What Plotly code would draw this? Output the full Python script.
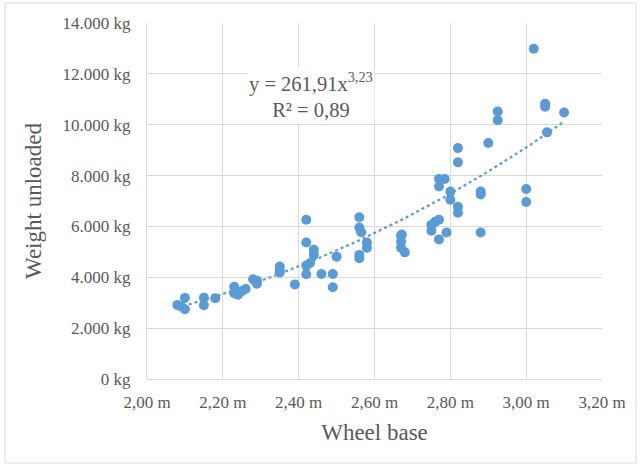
import numpy as np
import plotly.graph_objects as go

# Wheel base (m) and unloaded weight (kg)
wheel_base = [2.08, 2.09, 2.10, 2.10, 2.15, 2.15, 2.18, 2.23, 2.23, 2.24, 2.25, 2.26,
              2.28, 2.29, 2.29, 2.35, 2.35, 2.35, 2.39,
              2.42, 2.42, 2.44, 2.44, 2.43, 2.42, 2.42, 2.46, 2.49, 2.49, 2.50,
              2.56, 2.56, 2.565, 2.58, 2.58, 2.56, 2.56,
              2.67, 2.67, 2.67, 2.68, 2.672,
              2.75, 2.75, 2.77, 2.76, 2.77, 2.79, 2.88,
              2.82, 2.82, 2.80, 2.80, 2.77, 2.785, 2.77, 2.88, 2.88,
              3.00, 3.00, 2.82, 2.82, 2.90, 2.925, 2.925,
              3.02, 3.05, 3.05, 3.10, 3.055]
weight = [2910, 2850, 3190, 2740, 3200, 2900, 3180, 3630, 3370, 3310, 3450, 3540,
          3920, 3750, 3860, 4420, 4190, 4290, 3720,
          6260, 5370, 5080, 4880, 4560, 4460, 4120, 4130, 4130, 3610, 4810,
          6360, 5960, 5770, 5370, 5160, 4880, 4750,
          5630, 5410, 5160, 4980, 5680,
          6060, 5830, 6260, 6180, 5490, 5760, 5760,
          6770, 6540, 7370, 7050, 7870, 7870, 7570, 7370, 7260,
          7470, 6960, 9080, 8520, 9280, 10520, 10180,
          12990, 10820, 10710, 10480, 9700]

# Power trendline shown on the chart: y = 261.91 * x^3.23
trend_a = 261.91
trend_b = 3.23

x_ticks = [2.0, 2.2, 2.4, 2.6, 2.8, 3.0, 3.2]
y_ticks = [0, 2000, 4000, 6000, 8000, 10000, 12000, 14000]
x_tick_text = [f"{v:.2f}".replace(".", ",") + " m" for v in x_ticks]
y_tick_text = [f"{v:,d}".replace(",", ".") + " kg" for v in y_ticks]

blue = "#5B9BD5"
grey_text = "#595959"
grid = "#D9D9D9"
font_family = "Liberation Serif, 'Times New Roman', serif"

tx = np.linspace(min(wheel_base), max(wheel_base), 100)
ty = trend_a * tx ** trend_b

fig = go.Figure()
fig.add_trace(go.Scatter(x=wheel_base, y=weight, mode="markers",
                         marker=dict(color=blue, size=10, line=dict(width=0)),
                         showlegend=False, hoverinfo="x+y"))
fig.add_trace(go.Scatter(x=tx, y=ty, mode="lines",
                         line=dict(color=blue, width=2.2, dash="dot"),
                         showlegend=False, hoverinfo="skip"))

fig.add_annotation(x=2.432, y=11180, xref="x", yref="y",
                   text="y = 261,91x<sup>3,23</sup><br>R² = 0,89",
                   showarrow=False, bgcolor="white",
                   font=dict(family=font_family, size=20.5, color=grey_text),
                   align="center")

fig.add_shape(type="rect", xref="paper", yref="paper",
              x0=-142/455, x1=(636-147)/455, y0=(379-463)/356, y1=(379-3)/356,
              line=dict(color="#D9D9D9", width=1), layer="below")

fig.update_layout(
    width=643, height=468,
    margin=dict(l=147, r=41, t=23, b=89),
    paper_bgcolor="white", plot_bgcolor="white",
    font=dict(family=font_family, color=grey_text, size=17),
    xaxis=dict(range=[2.0, 3.2], tickvals=x_ticks, ticktext=x_tick_text,
               showgrid=True, gridcolor=grid, gridwidth=1,
               showline=True, linecolor=grid, linewidth=1,
               zeroline=False, ticks="", ticklabelstandoff=8,
               tickfont=dict(size=17, color=grey_text, family=font_family),
               title=dict(text="Wheel base", font=dict(size=23, color=grey_text, family=font_family),
                          standoff=12)),
    yaxis=dict(range=[0, 14000], tickvals=y_ticks, ticktext=y_tick_text,
               showgrid=True, gridcolor=grid, gridwidth=1,
               showline=True, linecolor=grid, linewidth=1,
               zeroline=False, ticks="", ticklabelstandoff=12,
               tickfont=dict(size=17, color=grey_text, family=font_family),
               title=dict(text="Weight unloaded", font=dict(size=23, color=grey_text, family=font_family),
                          standoff=14)),
)

fig.write_html("out.html")
